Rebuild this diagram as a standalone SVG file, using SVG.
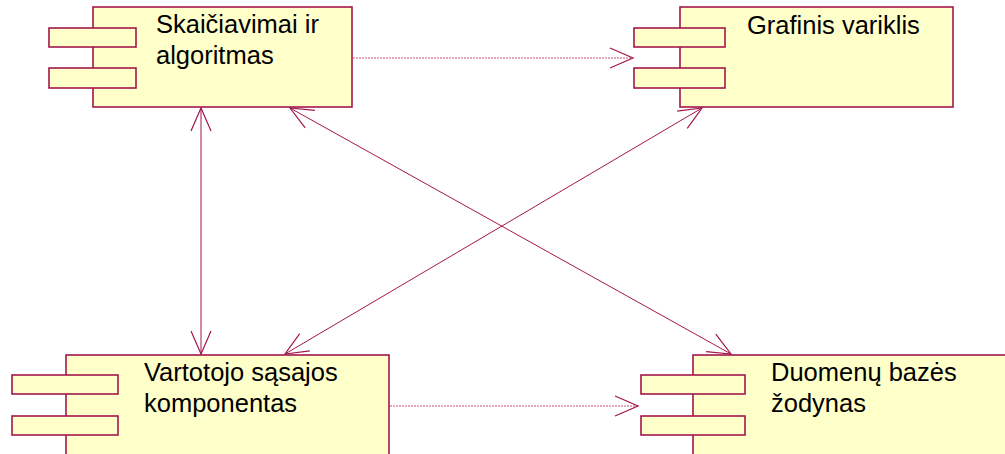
<svg xmlns="http://www.w3.org/2000/svg" width="1005" height="454" viewBox="0 0 1005 454">
  <style>
    .body { fill: #ffffca; stroke: #a3164c; stroke-width: 1.6; }
    .tab { fill: #ffffca; stroke: #a3164c; stroke-width: 1.6; }
    .label { font-family: "Liberation Sans", Arial, sans-serif; font-size: 25.5px; fill: #000; }
    .dep { fill: none; stroke: #c9507e; stroke-width: 1; stroke-dasharray: 2 1; }
    .assoc { fill: none; stroke: #a3164c; stroke-width: 1; }
    .head { fill: none; stroke: #a3164c; stroke-width: 1.2; }
  </style>
  <defs>
    <marker id="open" viewBox="-24 -12 26 24" refX="0" refY="0" markerWidth="26" markerHeight="24" markerUnits="userSpaceOnUse" orient="auto-start-reverse">
      <path class="head" d="M-23,-10 L0,0 L-23,10"/>
    </marker>
  </defs>
  <rect width="1005" height="454" fill="#ffffff"/>

  <g id="skaiciavimai">
    <rect class="body" x="93" y="7" width="259" height="100"/>
    <rect class="tab" x="49" y="28" width="87" height="19"/>
    <rect class="tab" x="49" y="68" width="87" height="20"/>
    <text class="label" x="156" y="33">Skaičiavimai ir</text>
    <text class="label" x="156" y="64">algoritmas</text>
  </g>

  <g id="grafinis">
    <rect class="body" x="680" y="7" width="273" height="100"/>
    <rect class="tab" x="634" y="28" width="91" height="19"/>
    <rect class="tab" x="634" y="68" width="91" height="20"/>
    <text class="label" x="747" y="34">Grafinis variklis</text>
  </g>

  <g id="vartotojo">
    <rect class="body" x="66" y="355" width="323" height="110"/>
    <rect class="tab" x="12" y="375" width="106" height="19"/>
    <rect class="tab" x="12" y="416" width="106" height="19"/>
    <text class="label" x="144" y="381">Vartotojo sąsajos</text>
    <text class="label" x="144" y="412">komponentas</text>
  </g>

  <g id="duomenu">
    <rect class="body" x="693" y="355" width="330" height="110"/>
    <rect class="tab" x="641" y="375" width="104" height="19"/>
    <rect class="tab" x="641" y="416" width="104" height="19"/>
    <text class="label" x="771" y="381">Duomenų bazės</text>
    <text class="label" x="771" y="412">žodynas</text>
  </g>

  <g id="connectors">
    <line class="dep" x1="353" y1="58" x2="633" y2="58" marker-end="url(#open)"/>
    <line class="dep" x1="390" y1="406" x2="638" y2="406" marker-end="url(#open)"/>
    <line class="assoc" x1="201" y1="108" x2="201" y2="354" marker-start="url(#open)" marker-end="url(#open)"/>
    <line class="assoc" x1="290" y1="108" x2="731" y2="354" marker-start="url(#open)" marker-end="url(#open)"/>
    <line class="assoc" x1="702" y1="108" x2="285" y2="354" marker-start="url(#open)" marker-end="url(#open)"/>
  </g>
</svg>
